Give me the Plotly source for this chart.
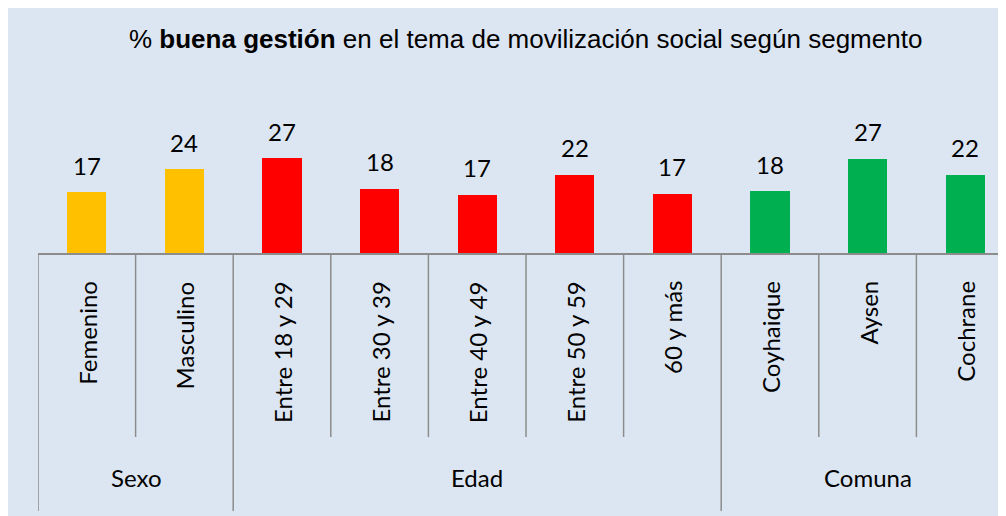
import plotly.graph_objects as go

# ---- data ----
categories = ["Femenino", "Masculino", "Entre 18 y 29", "Entre 30 y 39", "Entre 40 y 49",
              "Entre 50 y 59", "60 y más", "Coyhaique", "Aysen", "Cochrane"]
values = [17.4, 24.0, 27.1, 18.3, 16.6, 22.3, 16.9, 17.7, 26.9, 22.3]
groups = ["Sexo", "Edad", "Comuna"]
group_sizes = [2, 5, 3]
group_colors = {"Sexo": "#ffc000", "Edad": "#ff0000", "Comuna": "#00b050"}
title_text = "% <b>buena gestión</b> en el tema de movilización social según segmento"

# ---- layout geometry (pixels) ----
W, H = 1006, 516
OFF = 8              # page body margin
ML, MR, MT, MB = 30, 0, 62, 271
PW, PH = W - ML - MR, H - MT - MB
SCALE = 3.5          # px per unit
BG = "#dce6f2"
LINE = "#8c8c8c"

def px(x):
    """screen x -> paper x"""
    return (x - OFF - ML) / PW

def py(y):
    """screen y -> paper y"""
    return (H - MB - (y - OFF)) / PH

bar_colors = []
for g, n in zip(groups, group_sizes):
    bar_colors += [group_colors[g]] * n

fig = go.Figure()
fig.add_trace(go.Bar(
    x=list(range(len(categories))), y=values, width=0.4,
    marker=dict(color=bar_colors, line=dict(width=0)),
    hoverinfo="skip",
))

annotations = []
shapes = []

# value labels
for i, v in enumerate(values):
    annotations.append(dict(x=i, y=v, xref="x", yref="y", text=f"{v:.0f}",
                            showarrow=False, yanchor="middle", xanchor="center", yshift=27,
                            font=dict(family="Lato", size=24, color="#000000")))

# category labels (rotated)
for i, c in enumerate(categories):
    annotations.append(dict(x=i, y=py(279), xref="x", yref="paper", text=c,
                            showarrow=False, textangle=-90, yanchor="top", xanchor="center",
                            font=dict(family="Lato", size=24, color="#000000")))

# group labels + divider lines
start = 0
for g, n in zip(groups, group_sizes):
    center = start + (n - 1) / 2
    annotations.append(dict(x=center, y=py(478), xref="x", yref="paper", text=g,
                            showarrow=False, yanchor="middle", xanchor="center",
                            font=dict(family="Lato", size=24, color="#000000")))
    shapes.append(dict(type="line", xref="x", yref="paper", x0=start - 0.5, x1=start - 0.5,
                       y0=py(253), y1=py(511), line=dict(color=LINE, width=1.5)))
    for k in range(1, n):
        shapes.append(dict(type="line", xref="x", yref="paper", x0=start + k - 0.5, x1=start + k - 0.5,
                           y0=py(253), y1=py(437), line=dict(color=LINE, width=1.5)))
    start += n

# title
annotations.append(dict(x=px(525.5), y=py(39), xref="paper", yref="paper", text=title_text,
                        showarrow=False, yanchor="middle", xanchor="center",
                        font=dict(family="Liberation Sans, Arial", size=26, color="#000000")))

fig.update_layout(
    width=W, height=H,
    margin=dict(l=ML, r=MR, t=MT, b=MB, pad=0),
    paper_bgcolor=BG, plot_bgcolor="rgba(0,0,0,0)",
    showlegend=False,
    xaxis=dict(range=[-0.5, len(categories) - 0.5], showticklabels=False, showgrid=False,
               zeroline=False, showline=True, linecolor=LINE, linewidth=1.5, ticks="",
               fixedrange=True),
    yaxis=dict(range=[0, PH / SCALE], visible=False, fixedrange=True),
    annotations=annotations, shapes=shapes,
    bargap=0,
)

fig.write_html("out.html", config={"displayModeBar": False})
